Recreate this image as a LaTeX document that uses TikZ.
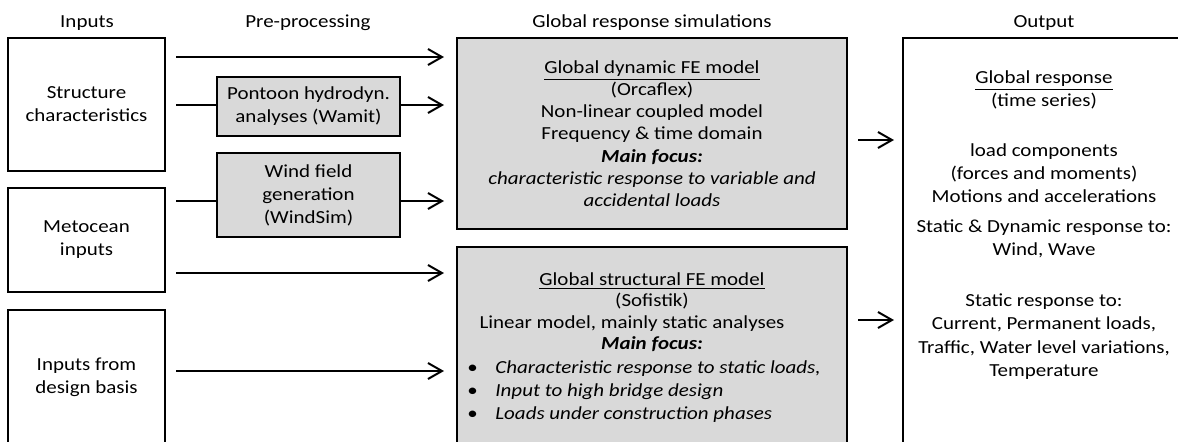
\documentclass[tikz,border=0pt]{standalone}
\usepackage{fontspec}
\setmainfont{Carlito}[FakeStretch=1.14]
\usepackage{xcolor}
\usetikzlibrary{arrows.meta,positioning}
\definecolor{simgray}{HTML}{D9D9D9}

\begin{document}
\begin{tikzpicture}[
  x=0.5pt, y=-0.5pt,
  font=\fontsize{9.2pt}{11.5pt}\selectfont,
  box/.style    = {draw=black, line width=1pt, fill=white, align=center,
                   inner sep=2pt},
  inbox/.style  = {box, minimum width=78.5pt},
  prebox/.style = {box, fill=simgray, minimum width=91.5pt},
  simbox/.style = {box, fill=simgray, minimum width=195pt},
  outbox/.style = {box, minimum width=141pt, minimum height=203pt},
  head/.style   = {anchor=base, inner sep=0pt},
  txt/.style    = {inner sep=0pt, align=center},
  feed/.style   = {line width=1pt, shorten <=5pt},
  arr/.style    = {-{Straight Barb[length=7pt,width=8pt]}, line width=1pt}
]
\useasboundingbox (0,0) rectangle (1178,441);

%%%%%%%%%%%%%%%%%%%%%%% COLUMN HEADINGS %%%%%%%%%%%%%%%%%%%%%%%%%%%%%%%%%%%%%%
\node[head] (hin)  at (87,27)   {Inputs};
\node[head] (hpre) at (308,27)  {Pre-processing};
\node[head] (hsim) at (652,27)  {Global response simulations};
\node[head] (hout) at (1044,27) {Output};

%%%%%%%%%%%%%%%%%%%%%%% INPUTS %%%%%%%%%%%%%%%%%%%%%%%%%%%%%%%%%%%%%%%%%%%%%%%
\node[inbox, minimum height=66.5pt] (struct) at (86.5,104.5)
      {Structure\\characteristics};
\node[inbox, minimum height=52pt]   (meto)   at (86.5,240)
      {Metocean\\inputs};
\node[inbox, minimum height=67pt]   (basis)  at (86.5,377)
      {Inputs from\\design basis};

%%%%%%%%%%%%%%%%%%%%%%% PRE-PROCESSING %%%%%%%%%%%%%%%%%%%%%%%%%%%%%%%%%%%%%%%
\node[prebox, minimum height=29.5pt] (pontoon) at (308.5,106.5)
      {Pontoon hydrodyn.\\analyses (Wamit)};
\node[prebox, minimum height=42pt]   (windgen) at (308.5,195)
      {Wind field\\generation\\(WindSim)};

%%%%%%%%%%%%%%%%%%%%%%% GLOBAL SIMULATIONS %%%%%%%%%%%%%%%%%%%%%%%%%%%%%%%%%%%
\node[simbox, minimum height=95.5pt, font=\fontsize{9.2pt}{11.1pt}\selectfont]
      (dynfe) at (652,133.5)
      {\underline{Global dynamic FE model}\\(Orcaflex)\\
       Non-linear coupled model\\Frequency \& time domain\\
       \textbf{\textit{Main focus:}}\\
       \textit{characteristic response to variable and}\\
       \textit{accidental loads}};

\node[simbox, minimum height=98.5pt] (statfe) at (652,345.5) {};
\node[txt, anchor=north, font=\fontsize{9.2pt}{10.8pt}\selectfont]
      (stathead) at (652,272)
      {\underline{Global structural FE model}\\(Sofistik)\\
       \hspace*{-20pt}Linear model, mainly static analyses\\
       \textbf{\textit{Main focus:}}};
\node[txt, anchor=north west, align=left, font=\fontsize{9.2pt}{11.7pt}\selectfont]
      (statlist) at (467,360)
      {\makebox[14pt][l]{\textbullet}\textit{Characteristic response to static loads,}\\
       \makebox[14pt][l]{\textbullet}\textit{Input to high bridge design}\\
       \makebox[14pt][l]{\textbullet}\textit{Loads under construction phases}};

%%%%%%%%%%%%%%%%%%%%%%% OUTPUT %%%%%%%%%%%%%%%%%%%%%%%%%%%%%%%%%%%%%%%%%%%%%%%
\node[outbox] (output) at (1044,241) {};
\node[txt, anchor=north, font=\fontsize{9.2pt}{11.6pt}\selectfont]
      (outtext) at (1044,70)
      {\underline{Global response}\\(time series)\\[13.3pt]
       load components\\(forces and moments)\\Motions and accelerations\\[3.4pt]
       Static \& Dynamic response to:\\Wind, Wave\\[13.9pt]
       Static response to:\\Current, Permanent loads,\\
       Traffic, Water level variations,\\Temperature};

%%%%%%%%%%%%%%%%%%%%%%% CONNECTORS %%%%%%%%%%%%%%%%%%%%%%%%%%%%%%%%%%%%%%%%%%%
\coordinate (r1) at (0,57);
\coordinate (r2) at (0,105);
\coordinate (r3) at (0,201);
\coordinate (r4) at (0,273);
\coordinate (r5) at (0,371);
\coordinate (o1) at (0,140);
\coordinate (o2) at (0,320);

\draw[arr, shorten <=5pt, shorten >=6pt] (struct.east |- r1) -- (dynfe.west |- r1);
\draw[feed] (struct.east |- r2) -- (pontoon.west |- r2);
\draw[arr, shorten >=6pt] (pontoon.east |- r2) -- (dynfe.west |- r2);
\draw[feed] (meto.east |- r3) -- (windgen.west |- r3);
\draw[arr, shorten >=6pt] (windgen.east |- r3) -- (dynfe.west |- r3);
\draw[arr, shorten <=5pt, shorten >=6pt] (meto.east |- r4) -- (statfe.west |- r4);
\draw[arr, shorten <=5pt, shorten >=6pt] (basis.east |- r5) -- (statfe.west |- r5);

\draw[arr, shorten <=5pt, shorten >=4pt] (dynfe.east |- o1) -- (output.west |- o1);
\draw[arr, shorten <=5pt, shorten >=4pt] (statfe.east |- o2) -- (output.west |- o2);

\end{tikzpicture}
\end{document}
